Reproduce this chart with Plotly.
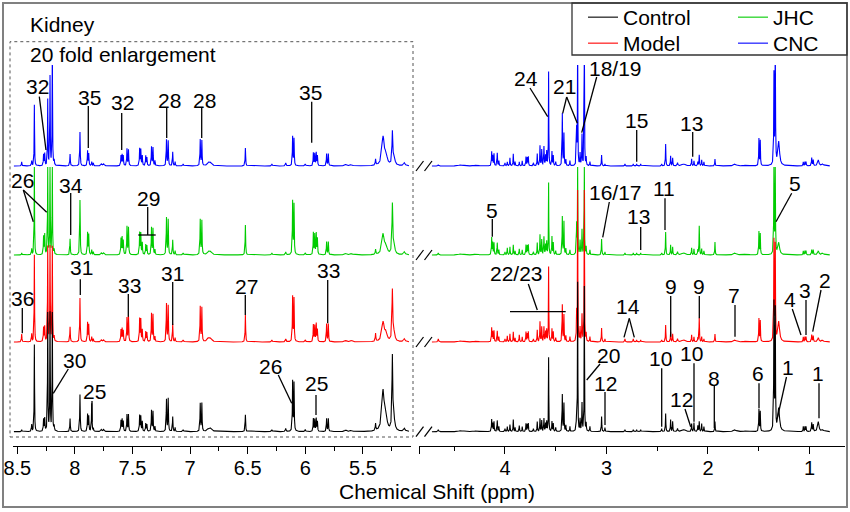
import numpy as np
import plotly.graph_objects as go

# ---------------- data ----------------
series = ["Control", "Model", "JHC", "CNC"]
colors = ["#000000", "#ff0000", "#00cc00", "#0000ff"]

# aromatic region (shown 20-fold enlarged)
left_ppm = [8.462, 8.375, 8.352, 8.272, 8.262, 8.236, 8.216, 8.196, 8.180, 8.042,
            7.956, 7.890, 7.880, 7.854, 7.840, 7.770, 7.750, 7.600, 7.590, 7.580,
            7.548, 7.535, 7.438, 7.428, 7.415, 7.385, 7.375, 7.335, 7.322, 7.305,
            7.205, 7.190, 7.151, 7.130, 7.060, 6.912, 6.898, 6.840, 6.820, 6.520,
            6.290, 6.170, 6.110, 6.098, 6.000, 5.930, 5.918, 5.905, 5.895, 5.815,
            5.800, 5.650, 5.600, 5.390, 5.325, 5.300, 5.244, 5.230, 5.140]
left_w = [0.0025, 0.0025, 0.002, 0.0025, 0.0025, 0.002, 0.002, 0.002, 0.0025, 0.0025,
          0.0025, 0.0025, 0.0025, 0.0025, 0.0025, 0.006, 0.006, 0.0025, 0.0025, 0.0025,
          0.0025, 0.0025, 0.0025, 0.0025, 0.0025, 0.0025, 0.0025, 0.0025, 0.0025, 0.0025,
          0.0025, 0.0025, 0.0025, 0.0025, 0.004, 0.0025, 0.0025, 0.012, 0.012, 0.0025,
          0.004, 0.004, 0.0025, 0.0025, 0.004, 0.0025, 0.0025, 0.0025, 0.0025, 0.0025,
          0.0025, 0.01, 0.01, 0.003, 0.012, 0.012, 0.004, 0.01, 0.008]
left_control = [2, 7, 87, 12, 13, 118, 118, 118, 5, 13,
                37, 17, 15, 28, 3, 2, 2, 11, 12, 10,
                17, 17, 16, 15, 10, 8, 7, 21, 20, 5,
                32, 33, 15, 4, 2, 28, 28, 3, 3, 17,
                2, 3, 50, 48, 2, 13, 12, 13, 10, 13,
                13, 1.5, 1.5, 7, 40, 12, 73, 10, 3]
left_model = [8, 8, 87, 14, 15, 95, 95, 95, 5, 15,
              44, 19, 17, 5, 3, 2, 2, 12, 13, 11,
              24, 25, 23, 22, 12, 10, 9, 28, 27, 5,
              38, 36, 18, 4, 2, 35, 34, 4, 3, 27,
              2, 3, 45, 43, 2, 17, 16, 18, 12, 18,
              18, 1.5, 1.5, 8, 19, 8, 50, 8, 3]
left_jhc = [2, 6, 88, 18, 20, 88, 88, 88, 5, 16,
            55, 22, 20, 5, 3, 2, 2, 16, 17, 14,
            28, 27, 22, 21, 12, 10, 9, 27, 26, 5,
            37, 35, 15, 4, 2, 35, 34, 3, 3, 30,
            2, 3, 53, 50, 2, 22, 20, 21, 16, 13,
            13, 1.5, 1.5, 5, 20, 8, 49, 8, 3]
left_cnc = [4, 5, 61, 11, 12, 66, 89, 120, 5, 12,
            34, 15, 12, 4, 3, 2, 2, 10, 11, 10,
            17, 16, 17, 16, 10, 10, 8, 19, 18, 5,
            26, 25, 14, 4, 2, 26, 25, 3, 3, 18,
            2, 3, 29, 27, 2, 13, 12, 13, 10, 12,
            12, 1.5, 1.5, 6, 28, 10, 32, 8, 3]

# aliphatic region
right_ppm = [4.657, 4.440, 4.280, 4.131, 4.121, 4.108, 4.076, 4.060, 4.000, 3.977,
             3.951, 3.918, 3.900, 3.859, 3.830, 3.793, 3.780, 3.770, 3.720, 3.682,
             3.655, 3.638, 3.616, 3.600, 3.589, 3.570, 3.537, 3.524, 3.500, 3.435,
             3.419, 3.400, 3.360, 3.294, 3.284, 3.260, 3.241, 3.218, 3.200, 3.163,
             3.048, 3.015, 2.818, 2.736, 2.703, 2.663, 2.456, 2.417, 2.368, 2.348,
             2.300, 2.240, 2.161, 2.138, 2.100, 2.086, 2.062, 2.040, 1.931, 1.734,
             1.620, 1.498, 1.485, 1.350, 1.337, 1.303, 1.061, 1.045, 1.034, 0.978,
             0.963, 0.913, 0.870]
right_w = [0.004, 0.02, 0.02, 0.0025, 0.0025, 0.0025, 0.0025, 0.0025, 0.003, 0.0025,
           0.0025, 0.0025, 0.0025, 0.0025, 0.0025, 0.0025, 0.0025, 0.0025, 0.003, 0.0025,
           0.0025, 0.0025, 0.0025, 0.0025, 0.0025, 0.002, 0.0025, 0.0025, 0.003, 0.0025,
           0.0025, 0.0025, 0.0025, 0.0025, 0.002, 0.0025, 0.0025, 0.002, 0.0025, 0.0025,
           0.0025, 0.0025, 0.003, 0.003, 0.003, 0.003, 0.003, 0.0025, 0.0025, 0.0025,
           0.004, 0.02, 0.0025, 0.0025, 0.0025, 0.0025, 0.0025, 0.0025, 0.0025, 0.015,
           0.02, 0.0025, 0.0025, 0.0025, 0.0025, 0.01, 0.0025, 0.0025, 0.0025, 0.003,
           0.003, 0.008, 0.01]
right_control = [2, 1, 1, 12, 8, 10, 11, 5, 3, 5,
                 7, 12, 4, 6, 5, 8, 7, 8, 3, 10,
                 13, 11, 13, 8, 10, 74, 10, 8, 4, 37,
                 28, 6, 5, 25, 150, 12, 28, 145, 8, 5,
                 15, 4, 2, 2, 2, 2, 3, 18, 12, 10,
                 3, 2, 8, 9, 6, 10, 8, 5, 10, 2,
                 1, 22, 20, 127, 120, 23, 5, 5, 5, 9,
                 7, 10, 2]
right_model = [3, 1, 1, 14, 10, 11, 11, 5, 3, 6,
               8, 10, 4, 7, 5, 10, 8, 10, 3, 12,
               20, 15, 15, 10, 12, 75, 13, 10, 4, 37,
               27, 6, 5, 28, 152, 14, 27, 152, 8, 5,
               14, 3, 3, 3, 2, 2, 2, 17, 10, 8,
               3, 2, 7, 5, 4, 24, 5, 3, 8, 2,
               1, 23, 21, 100, 95, 20, 5, 5, 5, 7,
               6, 4, 2]
right_jhc = [2, 1, 1, 17, 12, 12, 12, 5, 3, 7,
             8, 10, 4, 6, 5, 10, 9, 10, 3, 12,
             20, 15, 18, 10, 13, 72, 18, 12, 4, 38,
             33, 6, 5, 30, 88, 14, 25, 88, 8, 5,
             16, 3, 2, 2, 2, 2, 2, 23, 10, 8,
             3, 2, 7, 6, 5, 29, 6, 4, 13, 2,
             1, 23, 21, 88, 88, 12, 4, 4, 4, 5,
             5, 4, 2]
right_cnc = [1, 1, 1, 14, 10, 12, 13, 5, 3, 4,
             8, 12, 4, 4, 5, 9, 8, 9, 3, 12,
             20, 16, 19, 10, 14, 94, 14, 10, 4, 52,
             32, 6, 5, 36, 130, 12, 31, 130, 8, 4,
             11, 2, 2, 2, 2, 2, 2, 22, 10, 8,
             3, 2, 7, 5, 4, 11, 6, 4, 7, 2,
             1, 27, 25, 90, 130, 24, 4, 4, 4, 8,
             6, 6, 2]

left_heights = [left_control, left_model, left_jhc, left_cnc]
right_heights = [right_control, right_model, right_jhc, right_cnc]

left_ticks = [8.5, 8, 7.5, 7, 6.5, 6, 5.5]
left_ticktext = ["8.5", "8", "7.5", "7", "6.5", "6", "5.5"]
right_ticks = [4, 3, 2, 1]
right_ticktext = ["4", "3", "2", "1"]

# labels: text, text position and leader segments (pixel layout)
labels = [
    ("32", 37.7, 87, [((39.3, 96.7), (46, 150))]),
    ("35", 89, 98, [((88.3, 106), (88.3, 148))]),
    ("32", 122.7, 103, [((121.7, 113), (121.7, 150))]),
    ("28", 169, 100, [((166.7, 108), (166.7, 138))]),
    ("28", 204.3, 100, [((201.7, 108), (201.7, 138))]),
    ("35", 310.7, 92.7, [((311.7, 101.7), (311.7, 142.7))]),
    ("26", 22.3, 180, [((23.3, 190), (33.3, 221.7)), ((23.3, 190), (46.7, 212.3))]),
    ("34", 71, 185, [((70.7, 193), (70.7, 235))]),
    ("29", 148.3, 198.3, [((147.7, 207), (147.7, 235)), ((138.3, 235), (155.7, 235))]),
    ("31", 81, 267.3, [((80.3, 279.3), (80.3, 295))]),
    ("33", 129, 285, [((128.3, 294), (128.3, 316.7))]),
    ("31", 172.7, 273.3, [((172.7, 282), (172.7, 325))]),
    ("27", 246.7, 286, [((245.3, 295), (245.3, 315))]),
    ("33", 328.3, 270.7, [((327.7, 280), (327.7, 323.3))]),
    ("36", 22.7, 298.3, [((22.3, 308), (22.3, 333.3))]),
    ("30", 74, 360, [((68.3, 369), (53.3, 393.3))]),
    ("25", 94, 391.7, [((92, 401), (92, 421.7))]),
    ("26", 270, 366, [((278.3, 375), (291.7, 403.3))]),
    ("25", 316.7, 383.3, [((316, 395), (316, 415))]),
    ("24", 526, 79, [((530, 88), (547.7, 116.7))]),
    ("21", 564, 86.7, [((566.7, 97), (562.7, 113.3)), ((566.7, 97), (577.3, 123.3))]),
    ("18/19", 615, 68.3, [((596.7, 77), (581.7, 132.7))]),
    ("15", 636.7, 120.7, [((636.7, 130), (636.7, 161.7))]),
    ("13", 691.7, 123.3, [((692.7, 132), (692.7, 156.7))]),
    ("5", 492.3, 210.7, [((492.3, 219), (492.3, 236.7))]),
    ("16/17", 615, 192.7, [((609.3, 202), (602.7, 237.3))]),
    ("13", 638.3, 216.7, [((640.7, 227), (640.7, 250))]),
    ("11", 664, 188.3, [((665, 198.3), (665, 230))]),
    ("5", 795, 183.3, [((791.7, 193.3), (776, 221.7))]),
    ("22/23", 516.7, 273.3, [((528.3, 284), (537.3, 310)), ((510, 311.7), (565.7, 311.7))]),
    ("14", 628.3, 306.7, [((629.3, 318.3), (624, 337.3)), ((629.3, 318.3), (634.3, 337.3))]),
    ("9", 670.7, 286.7, [((670.7, 296), (670.7, 336.7))]),
    ("9", 699.3, 286, [((699.3, 296), (699.3, 318.3))]),
    ("7", 734.3, 295, [((735, 305), (735, 336.7))]),
    ("4", 790, 299.3, [((792.3, 309), (801, 335))]),
    ("3", 805, 290, [((806, 300), (806, 335))]),
    ("2", 825, 280, [((821, 290), (812.7, 331.7))]),
    ("20", 608.3, 355, [((600, 364), (586.7, 380))]),
    ("12", 605, 383.3, [((605, 392), (605, 425))]),
    ("10", 660, 358.3, [((661.7, 368.3), (661.7, 426.7))]),
    ("10", 691.7, 353.3, [((694, 363.3), (694, 421.7))]),
    ("12", 681.7, 399.3, [((685, 409), (690.7, 426.7))]),
    ("8", 714, 378.3, [((714.3, 386), (714.3, 428.3))]),
    ("6", 758.3, 373.3, [((759, 383.3), (759, 408.3))]),
    ("1", 788.3, 367.3, [((786.5, 377), (777.3, 418.3))]),
    ("1", 818.3, 373.3, [((819, 383.3), (819, 418.3))]),
]

# ---------------- layout geometry ----------------
W, H = 850, 512
ML, MR, MT, MB = 5, 5, 65, 66
PW, PH = W - ML - MR, H - MT - MB
BOTTOM = H - MB
FONT = "Liberation Sans, Arial, sans-serif"

def xp(px):
    return (px - ML) / PW

def yp(py):
    return (BOTTOM - py) / PH

baseline_px = [431.7, 342, 255, 166]        # Control, Model, JHC, CNC
caps = [150, 152, 88, 130]
draw_order = [3, 2, 1, 0]                     # CNC first, Control on top
legend_ids = ["legend", "legend2", "legend3", "legend4"]
legend_pos = [(583, -3), (583, 23), (733, -3), (733, 23)]   # left px, top px


def spectrum(grid, ppm, w, h):
    y = np.zeros_like(grid)
    for p, wi, hi in zip(ppm, w, h):
        if hi > 0:
            y += hi * wi ** 2 / ((grid - p) ** 2 + wi ** 2)
    return y


grid_left = np.union1d(np.arange(5.10, 8.53, 0.0004), left_ppm)
grid_right = np.union1d(np.arange(0.80, 4.72, 0.0004), right_ppm)

fig = go.Figure()
for i in draw_order:
    off = BOTTOM - baseline_px[i]
    yl = off + np.minimum(spectrum(grid_left, left_ppm, left_w, left_heights[i]), caps[i])
    yr = off + np.minimum(spectrum(grid_right, right_ppm, right_w, right_heights[i]), caps[i])
    fig.add_trace(go.Scatter(x=grid_left, y=yl, mode="lines", xaxis="x", yaxis="y",
                             line=dict(color=colors[i], width=1.1), name=series[i],
                             legendgroup=series[i], showlegend=True, legend=legend_ids[i],
                             hoverinfo="skip"))
    fig.add_trace(go.Scatter(x=grid_right, y=yr, mode="lines", xaxis="x2", yaxis="y",
                             line=dict(color=colors[i], width=1.1), name=series[i],
                             legendgroup=series[i], showlegend=False, hoverinfo="skip"))

axis_common = dict(ticks="outside", ticklen=7, tickwidth=1.3, tickcolor="black",
                   showline=True, linecolor="black", linewidth=1.3, showgrid=False,
                   zeroline=False, tickfont=dict(size=20, color="black", family=FONT),
                   anchor="y", tickmode="array", automargin=False, ticklabelstandoff=-3)

legends = {}
for lid, (lx, ly) in zip(legend_ids, legend_pos):
    legends[lid] = dict(x=xp(lx), y=yp(ly), xanchor="left", yanchor="top",
                        font=dict(size=21, color="black", family=FONT),
                        bgcolor="rgba(0,0,0,0)", borderwidth=0, itemwidth=30)

fig.update_layout(
    width=W, height=H,
    margin=dict(l=ML, r=MR, t=MT, b=MB, autoexpand=False),
    paper_bgcolor="white", plot_bgcolor="white",
    font=dict(family=FONT, color="black"),
    xaxis=dict(domain=[xp(12.7), xp(410.7)], range=[8.540, 5.085],
               tickvals=left_ticks, ticktext=left_ticktext,
               minor=dict(tickmode="array", tickvals=[8.25, 7.75, 7.25, 6.75, 6.25, 5.75, 5.25],
                          ticks="outside", ticklen=4, tickwidth=1.3, tickcolor="black",
                          showgrid=False),
               **axis_common),
    xaxis2=dict(domain=[xp(419.3), xp(845)], range=[4.844, 0.650],
                tickvals=right_ticks + [4.84], ticktext=right_ticktext + [""],
                minor=dict(tickmode="array", tickvals=[4.5, 3.5, 2.5, 1.5],
                           ticks="outside", ticklen=4, tickwidth=1.3, tickcolor="black",
                           showgrid=False),
                **axis_common),
    yaxis=dict(range=[0, PH], visible=False, fixedrange=True, automargin=False),
    showlegend=True,
    **legends,
)

shapes = []
# outer frame
shapes.append(dict(type="rect", xref="paper", yref="paper", x0=xp(3), x1=xp(847),
                   y0=yp(507), y1=yp(3), line=dict(color="#808080", width=2)))
# legend box
shapes.append(dict(type="rect", xref="paper", yref="paper", x0=xp(572), x1=xp(847),
                   y0=yp(55), y1=yp(3), line=dict(color="#333333", width=1.3)))
# dotted enlargement box
shapes.append(dict(type="rect", xref="paper", yref="paper", x0=xp(10), x1=xp(413),
                   y0=yp(437), y1=yp(41.7), line=dict(color="#555555", width=1, dash="dot")))
# axis break marks
for b in baseline_px:
    for sx in (416, 424.5):
        shapes.append(dict(type="line", xref="paper", yref="paper",
                           x0=xp(sx), y0=yp(b + 5), x1=xp(sx + 7.5), y1=yp(b - 5),
                           line=dict(color="black", width=1.2)))

annotations = []
for text, tx, ty, segs in labels:
    annotations.append(dict(x=xp(tx), y=yp(ty), xref="paper", yref="paper", text=text,
                            showarrow=False, xanchor="center", yanchor="middle",
                            font=dict(size=21, color="black", family=FONT)))
    for (x0, y0), (x1, y1) in segs:
        shapes.append(dict(type="line", xref="paper", yref="paper",
                           x0=xp(x0), y0=yp(y0), x1=xp(x1), y1=yp(y1),
                           line=dict(color="black", width=1.3)))

annotations.append(dict(x=xp(28), y=yp(24), xref="paper", yref="paper", text="Kidney",
                        showarrow=False, xanchor="left", yanchor="middle",
                        font=dict(size=21, color="black", family=FONT)))
annotations.append(dict(x=xp(28), y=yp(54.5), xref="paper", yref="paper",
                        text="20 fold enlargement", showarrow=False, xanchor="left",
                        yanchor="middle", font=dict(size=21, color="black", family=FONT)))
annotations.append(dict(x=xp(437), y=yp(491), xref="paper", yref="paper",
                        text="Chemical Shift (ppm)", showarrow=False, xanchor="center",
                        yanchor="middle", font=dict(size=21, color="black", family=FONT)))

fig.update_layout(shapes=shapes, annotations=annotations)
fig.write_html("out.html", config={"displayModeBar": False},
               post_script="document.body.style.margin='0';document.body.style.padding='0';")
